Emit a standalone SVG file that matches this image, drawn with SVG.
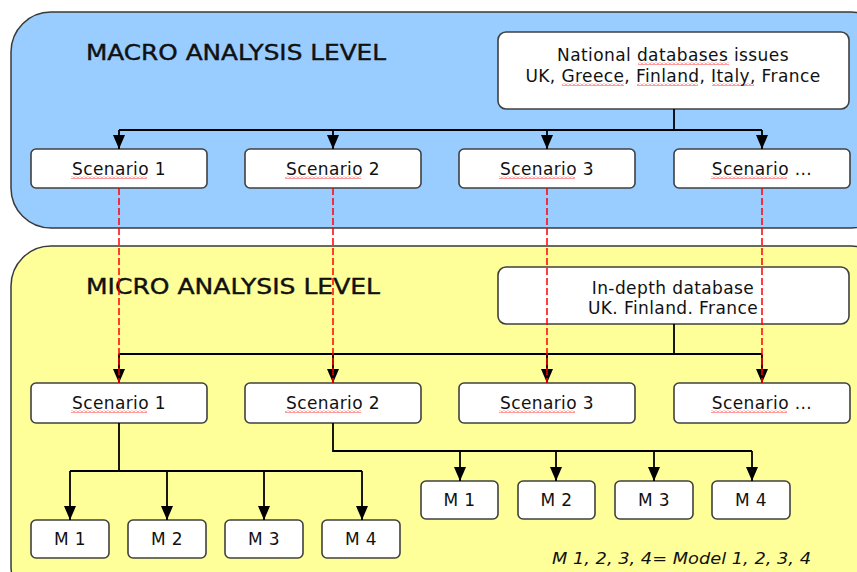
<svg xmlns="http://www.w3.org/2000/svg" width="857" height="572" viewBox="0 0 857 572">
  <style>
    .panel { stroke: #3a3a3a; stroke-width: 1.5; }
    .box { fill: #ffffff; stroke: #404040; stroke-width: 1.6; }
    .lbl { font-family: "DejaVu Sans", Verdana, sans-serif; font-size: 17px; letter-spacing: 0.4px; fill: #111; text-anchor: middle; }
    .title { font-family: "DejaVu Sans", Verdana, sans-serif; font-size: 20.5px; fill: #111; stroke: #111; stroke-width: 0.4; }
    .note { font-family: "DejaVu Sans", Verdana, sans-serif; font-size: 16.5px; font-style: italic; fill: #111; }
    .link { fill: none; stroke: #000; stroke-width: 1.8; }
    .arrow { fill: none; stroke: #000; stroke-width: 1.8; marker-end: url(#head); }
    .dash { fill: none; stroke: #ff0000; stroke-width: 1.5; stroke-dasharray: 7 3; }
    .wavy { fill: url(#squiggle); }
  </style>
  <defs>
    <marker id="head" markerUnits="userSpaceOnUse" markerWidth="14" markerHeight="12" viewBox="0 0 14 12" refX="14" refY="6" orient="auto">
      <path d="M0,0 L14,6 L0,12 Z" fill="#000"/>
    </marker>
    <!-- red wavy underline used below flagged words -->
    <pattern id="squiggle" patternUnits="userSpaceOnUse" width="4" height="3">
      <path d="M0,2.5 L2,0.5 L4,2.5" fill="none" stroke="#ff2020" stroke-width="0.9"/>
    </pattern>
  </defs>

  <!-- level panels -->
  <g id="macro-panel">
    <rect class="panel" x="11" y="12" width="880" height="216" rx="40" fill="#99ccff"/>
    <text class="title" x="86" y="60" textLength="300" lengthAdjust="spacingAndGlyphs">MACRO ANALYSIS LEVEL</text>
  </g>
  <g id="micro-panel">
    <rect class="panel" x="11" y="246" width="880" height="360" rx="40" fill="#ffff99"/>
    <text class="title" x="86" y="294" textLength="294" lengthAdjust="spacingAndGlyphs">MICRO ANALYSIS LEVEL</text>
  </g>

  <!-- macro level nodes -->
  <g id="national-db">
    <rect class="box" x="498" y="32" width="351" height="77" rx="8"/>
    <text class="lbl" x="673" y="61">National databases issues</text>
    <text class="lbl" x="673" y="82">UK, Greece, Finland, Italy, France</text>
    <rect class="wavy" x="638" y="62" width="91" height="3"/>
    <rect class="wavy" x="562" y="83" width="62" height="3"/>
    <rect class="wavy" x="637" y="83" width="61" height="3"/>
    <rect class="wavy" x="712" y="83" width="42" height="3"/>
  </g>
  <g id="macro-s1"><rect class="box" x="31" y="149" width="176" height="39" rx="5"/><text class="lbl" x="119" y="175">Scenario 1</text><rect class="wavy" x="71" y="176" width="76" height="3"/></g>
  <g id="macro-s2"><rect class="box" x="245" y="149" width="176" height="39" rx="5"/><text class="lbl" x="333" y="175">Scenario 2</text><rect class="wavy" x="285" y="176" width="76" height="3"/></g>
  <g id="macro-s3"><rect class="box" x="459" y="149" width="176" height="39" rx="5"/><text class="lbl" x="547" y="175">Scenario 3</text><rect class="wavy" x="499" y="176" width="76" height="3"/></g>
  <g id="macro-s4"><rect class="box" x="674" y="149" width="176" height="39" rx="5"/><text class="lbl" x="762" y="175">Scenario ...</text><rect class="wavy" x="711" y="176" width="76" height="3"/></g>

  <!-- micro level nodes -->
  <g id="indepth-db">
    <rect class="box" x="498" y="267" width="351" height="57" rx="8"/>
    <text class="lbl" x="673" y="294">In-depth database</text>
    <text class="lbl" x="673" y="314">UK. Finland. France</text>
  </g>
  <g id="micro-s1"><rect class="box" x="31" y="383" width="176" height="40" rx="5"/><text class="lbl" x="119" y="409">Scenario 1</text><rect class="wavy" x="71" y="410" width="76" height="3"/></g>
  <g id="micro-s2"><rect class="box" x="245" y="383" width="176" height="40" rx="5"/><text class="lbl" x="333" y="409">Scenario 2</text><rect class="wavy" x="285" y="410" width="76" height="3"/></g>
  <g id="micro-s3"><rect class="box" x="459" y="383" width="176" height="40" rx="5"/><text class="lbl" x="547" y="409">Scenario 3</text><rect class="wavy" x="499" y="410" width="76" height="3"/></g>
  <g id="micro-s4"><rect class="box" x="674" y="383" width="176" height="40" rx="5"/><text class="lbl" x="762" y="409">Scenario ...</text><rect class="wavy" x="711" y="410" width="76" height="3"/></g>

  <!-- models under scenario 1 -->
  <g id="s1-m1"><rect class="box" x="31" y="520" width="78" height="38" rx="5"/><text class="lbl" x="70" y="545">M 1</text></g>
  <g id="s1-m2"><rect class="box" x="128" y="520" width="78" height="38" rx="5"/><text class="lbl" x="167" y="545">M 2</text></g>
  <g id="s1-m3"><rect class="box" x="225" y="520" width="78" height="38" rx="5"/><text class="lbl" x="264" y="545">M 3</text></g>
  <g id="s1-m4"><rect class="box" x="322" y="520" width="78" height="38" rx="5"/><text class="lbl" x="361" y="545">M 4</text></g>

  <!-- models under scenario 2 -->
  <g id="s2-m1"><rect class="box" x="421" y="481" width="77" height="38" rx="5"/><text class="lbl" x="459.5" y="506">M 1</text></g>
  <g id="s2-m2"><rect class="box" x="518" y="481" width="77" height="38" rx="5"/><text class="lbl" x="556.5" y="506">M 2</text></g>
  <g id="s2-m3"><rect class="box" x="615" y="481" width="78" height="38" rx="5"/><text class="lbl" x="654" y="506">M 3</text></g>
  <g id="s2-m4"><rect class="box" x="712" y="481" width="78" height="38" rx="5"/><text class="lbl" x="751" y="506">M 4</text></g>

  <g id="legend">
    <text class="note" x="552" y="564" textLength="259" lengthAdjust="spacingAndGlyphs">M 1, 2, 3, 4= Model 1, 2, 3, 4</text>
  </g>

  <!-- connectors -->
  <g id="connectors">
    <!-- national databases to macro scenarios -->
    <path class="link" d="M674,109 V130 M119,130 H762"/>
    <path class="arrow" d="M119,130 V149"/>
    <path class="arrow" d="M333,130 V149"/>
    <path class="arrow" d="M547,130 V149"/>
    <path class="arrow" d="M762,130 V149"/>
    <!-- in-depth database to micro scenarios -->
    <path class="link" d="M674,324 V354 M119,354 H762"/>
    <path class="arrow" d="M119,354 V383"/>
    <path class="arrow" d="M333,354 V383"/>
    <path class="arrow" d="M547,354 V383"/>
    <path class="arrow" d="M762,354 V383"/>
    <!-- scenario 1 to models -->
    <path class="link" d="M119,423 V471 M70,471 H362"/>
    <path class="arrow" d="M70,471 V520"/>
    <path class="arrow" d="M167,471 V520"/>
    <path class="arrow" d="M264,471 V520"/>
    <path class="arrow" d="M362,471 V520"/>
    <!-- scenario 2 to models -->
    <path class="link" d="M333,423 V451 H752"/>
    <path class="arrow" d="M460,451 V481"/>
    <path class="arrow" d="M556,451 V481"/>
    <path class="arrow" d="M654,451 V481"/>
    <path class="arrow" d="M752,451 V481"/>
    <!-- macro scenario to micro scenario correspondence -->
    <path class="dash" d="M119,188 V383"/>
    <path class="dash" d="M333,188 V383"/>
    <path class="dash" d="M547,188 V383"/>
    <path class="dash" d="M762,188 V383"/>
  </g>
</svg>
